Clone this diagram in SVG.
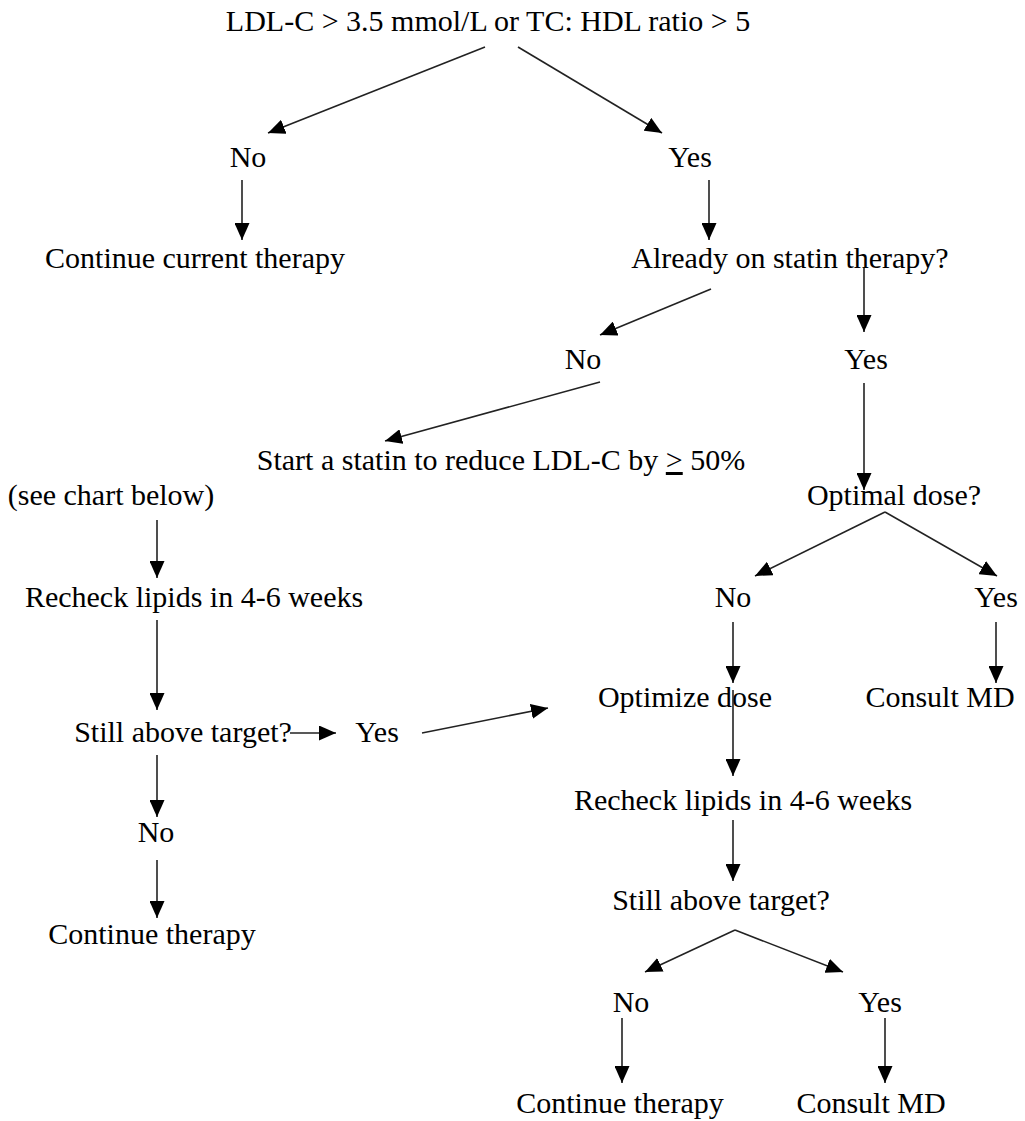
<svg xmlns="http://www.w3.org/2000/svg" width="1025" height="1121" viewBox="0 0 1025 1121">
  <defs>
    <marker id="arrow" markerUnits="userSpaceOnUse" markerWidth="17" markerHeight="15" refX="17" refY="7.5" orient="auto">
      <path d="M0,0 L17,7.5 L0,15 z" fill="#000"/>
    </marker>
    <style>
      .lbl text { font-family: 'Liberation Serif', 'DejaVu Serif', serif; font-size: 30px; fill: #000; text-anchor: middle; }
      .conn line { stroke: #222; stroke-width: 1.6; marker-end: url(#arrow); }
    </style>
  </defs>
  <rect width="1025" height="1121" fill="#fff"/>

  <!-- nodes -->
  <g class="lbl">
    <g id="n-start"><text x="488" y="31">LDL-C &gt; 3.5 mmol/L or TC: HDL ratio &gt; 5</text></g>
    <g id="n-no1"><text x="248" y="167">No</text></g>
    <g id="n-yes1"><text x="690" y="167">Yes</text></g>
    <g id="n-continue-current"><text x="195" y="268">Continue current therapy</text></g>
    <g id="n-already"><text x="790" y="268">Already on statin therapy?</text></g>
    <g id="n-no2"><text x="583" y="369">No</text></g>
    <g id="n-yes2"><text x="866" y="369">Yes</text></g>
    <g id="n-start-statin"><text x="501" y="470">Start a statin to reduce LDL-C by <tspan text-decoration="underline">&gt;</tspan> 50%</text></g>
    <g id="n-see-chart"><text x="111" y="505">(see chart below)</text></g>
    <g id="n-optimal"><text x="894" y="505">Optimal dose?</text></g>
    <g id="n-recheck1"><text x="194" y="607">Recheck lipids in 4-6 weeks</text></g>
    <g id="n-no3"><text x="733" y="607">No</text></g>
    <g id="n-yes3"><text x="996" y="607">Yes</text></g>
    <g id="n-optimize"><text x="685" y="707">Optimize dose</text></g>
    <g id="n-consult1"><text x="940" y="707">Consult MD</text></g>
    <g id="n-still1"><text x="183" y="742">Still above target?</text></g>
    <g id="n-yes4"><text x="377" y="742">Yes</text></g>
    <g id="n-recheck2"><text x="743" y="810">Recheck lipids in 4-6 weeks</text></g>
    <g id="n-no4"><text x="156" y="842">No</text></g>
    <g id="n-still2"><text x="721" y="910">Still above target?</text></g>
    <g id="n-continue1"><text x="152" y="944">Continue therapy</text></g>
    <g id="n-no5"><text x="631" y="1012">No</text></g>
    <g id="n-yes5"><text x="880" y="1012">Yes</text></g>
    <g id="n-continue2"><text x="620" y="1113">Continue therapy</text></g>
    <g id="n-consult2"><text x="871" y="1113">Consult MD</text></g>
  </g>

  <!-- connectors -->
  <g id="connectors" class="conn">
    <line x1="485" y1="47" x2="268" y2="133"/>
    <line x1="518" y1="47" x2="662" y2="133"/>
    <line x1="242" y1="180" x2="242" y2="240"/>
    <line x1="709" y1="180" x2="709" y2="240"/>
    <line x1="711" y1="289" x2="600" y2="335"/>
    <line x1="864" y1="268" x2="864" y2="332"/>
    <line x1="600" y1="382" x2="385" y2="441"/>
    <line x1="864" y1="383" x2="864" y2="490"/>
    <line x1="157" y1="520" x2="157" y2="578"/>
    <line x1="157" y1="620" x2="157" y2="710"/>
    <line x1="290" y1="733" x2="336" y2="733"/>
    <line x1="422" y1="733" x2="548" y2="708"/>
    <line x1="157" y1="755" x2="157" y2="817"/>
    <line x1="157" y1="860" x2="157" y2="918"/>
    <line x1="885" y1="512" x2="755" y2="576"/>
    <line x1="885" y1="512" x2="997" y2="576"/>
    <line x1="733" y1="622" x2="733" y2="683"/>
    <line x1="996" y1="622" x2="996" y2="683"/>
    <line x1="733" y1="690" x2="733" y2="776"/>
    <line x1="733" y1="820" x2="733" y2="881"/>
    <line x1="735" y1="930" x2="645" y2="972"/>
    <line x1="735" y1="930" x2="843" y2="972"/>
    <line x1="622" y1="1018" x2="622" y2="1083"/>
    <line x1="885" y1="1018" x2="885" y2="1083"/>
  </g>
</svg>
